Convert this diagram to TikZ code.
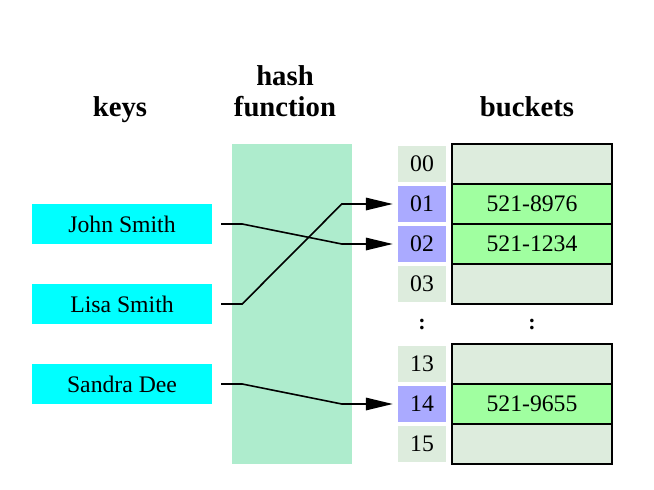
\documentclass[tikz,border=0pt]{standalone}
\usepackage{fontspec}
\setmainfont{Liberation Serif}
\usetikzlibrary{arrows.meta}

\definecolor{keycyan}{RGB}{0,255,255}
\definecolor{hashgreen}{RGB}{174,236,205}
\definecolor{cellgrey}{RGB}{221,236,221}
\definecolor{cellblue}{RGB}{170,170,255}
\definecolor{cellgreen}{RGB}{160,255,160}

\tikzset{
    keybox/.style={fill=keycyan, minimum width=180pt, minimum height=40pt, inner sep=0pt, font=\fontsize{23.7}{28}\selectfont},
    idxcell/.style={fill=cellgrey, minimum width=48pt, minimum height=36pt, inner sep=0pt, font=\fontsize{23.7}{28}\selectfont},
    bucket/.style={draw=black, line width=1.5pt, fill=cellgrey, minimum width=160pt, minimum height=40pt, inner sep=0pt, font=\fontsize{23.7}{28}\selectfont},
    header/.style={anchor=base, font=\bfseries\fontsize{28.7}{32}\selectfont},
    hashlink/.style={line width=1.6pt, shorten <=9pt, shorten >=5pt, -{Triangle[length=27pt,width=12.5pt]}}
}

\begin{document}
\begin{tikzpicture}[x=1pt,y=-1pt]
        \useasboundingbox (0,0) rectangle (654,490);
        % column headers
        \node[header] (keyshdr) at (120,116) {keys};
        \node[header] (hashhdr) at (285,85) {hash};
        \node[header] (funchdr) at (285,116) {function};
        \node[header] (buckhdr) at (527,116) {buckets};
        % hash function band
        \fill[hashgreen] (232,144) rectangle (352,464);
        % keys
        \node[keybox] (john) at (122,224) {John Smith};
        \node[keybox] (lisa) at (122,304) {Lisa Smith};
        \node[keybox] (sandra) at (122,384) {Sandra Dee};
        % index cells and buckets
        \foreach \idx/\y/\col in {00/164/cellgrey, 01/204/cellblue, 02/244/cellblue, 03/284/cellgrey,
                                  13/364/cellgrey, 14/404/cellblue, 15/444/cellgrey} {
            \node[idxcell, fill=\col] (idx\idx) at (422,\y) {\idx};
        }
        \foreach \idx/\y in {00/164, 03/284, 13/364, 15/444} {
            \node[bucket] (bkt\idx) at (532,\y) {};
        }
        \node[bucket, fill=cellgreen] (bkt01) at (532,204) {521-8976};
        \node[bucket, fill=cellgreen] (bkt02) at (532,244) {521-1234};
        \node[bucket, fill=cellgreen] (bkt14) at (532,404) {521-9655};
        % gap between 03 and 13
        \node[font=\bfseries\fontsize{22}{24}\selectfont] (idxdots) at (422,324) {:};
        \node[font=\bfseries\fontsize{22}{24}\selectfont] (bktdots) at (532,324) {:};
        % hashing
        \draw[hashlink] (john.east) -- ++(30,0) -- ([xshift=-56pt]idx02.west) -- (idx02.west);
        \draw[hashlink] (lisa.east) -- ++(30,0) -- ([xshift=-56pt]idx01.west) -- (idx01.west);
        \draw[hashlink] (sandra.east) -- ++(30,0) -- ([xshift=-56pt]idx14.west) -- (idx14.west);
\end{tikzpicture}
\end{document}
